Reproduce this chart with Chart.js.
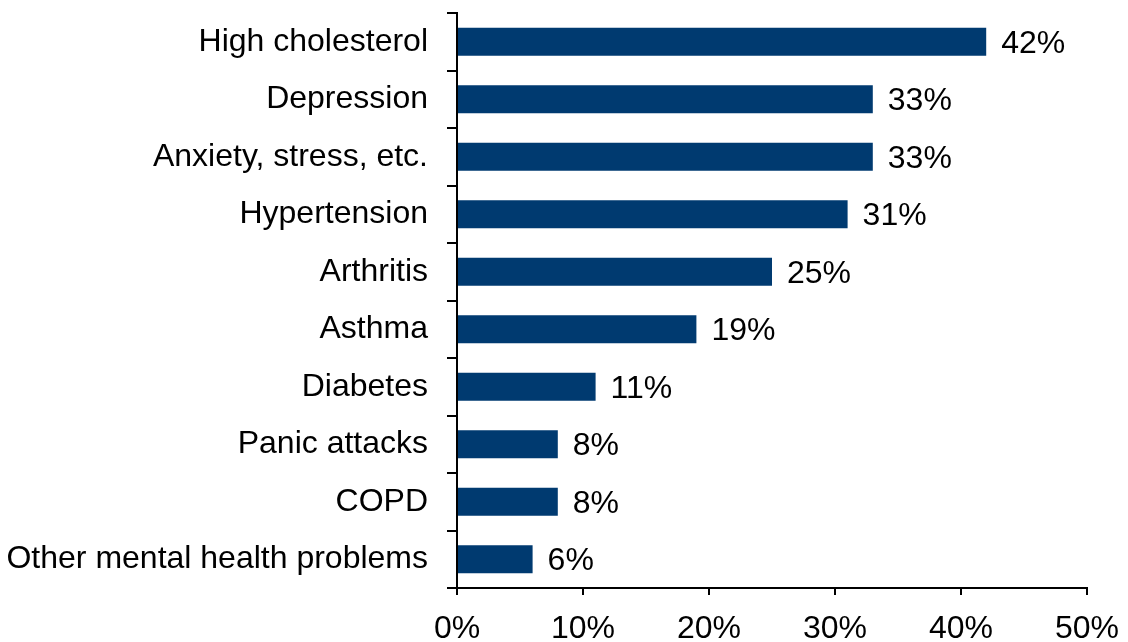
<!DOCTYPE html>
<html>
<head>
<meta charset="utf-8">
<script src="https://cdn.jsdelivr.net/npm/chart.js@4/dist/chart.umd.min.js"></script>
<style>
  html, body { margin: 0; padding: 0; background: #fff; }
  #wrap { width: 1128px; height: 642px; }
</style>
</head>
<body>
<div id="wrap"><canvas id="chart"></canvas></div>
<script>
const categories = ['High cholesterol', 'Depression', 'Anxiety, stress, etc.', 'Hypertension', 'Arthritis',
  'Asthma', 'Diabetes', 'Panic attacks', 'COPD', 'Other mental health problems'];
const values = [42, 33, 33, 31, 25, 19, 11, 8, 8, 6];
const xTicks = [0, 10, 20, 30, 40, 50];

const FONT = 'Liberation Sans, Arial, sans-serif';

// valeurs à droite des barres
const valueLabels = {
    id: 'valueLabels',
    afterDatasetsDraw(chart) {
        const { ctx } = chart;
        const meta = chart.getDatasetMeta(0);
        ctx.save();
        ctx.font = '32px ' + FONT;
        ctx.fillStyle = '#000';
        ctx.textAlign = 'left';
        ctx.textBaseline = 'middle';
        meta.data.forEach((bar, i) => {
            ctx.fillText(values[i] + '%', bar.x + 15, bar.y + 2);
        });
        ctx.restore();
    }
};

new Chart(document.getElementById('chart'), {
    type: 'bar',
    data: {
        labels: categories,
        datasets: [{
            data: values,
            backgroundColor: '#003A70',
            borderWidth: 0,
            barPercentage: 0.49,
            categoryPercentage: 1
        }]
    },
    plugins: [valueLabels],
    options: {
        responsive: true,
        maintainAspectRatio: false,
        animation: false,
        indexAxis: 'y',
        layout: { padding: { top: 13, right: 41, bottom: 0, left: 8 } },
        plugins: { legend: { display: false }, tooltip: { enabled: false } },
        scales: {
            x: {
                min: 0,
                max: 50,
                afterBuildTicks: axis => { axis.ticks = xTicks.map(v => ({ value: v })); },
                afterFit: axis => {
                    axis.height = 54;
                    axis.paddingLeft = 0;
                    axis.paddingRight = 0;
                },
                border: { color: '#000', width: 2 },
                grid: { drawOnChartArea: false, color: '#000', lineWidth: 2, tickLength: 7 },
                ticks: {
                    color: '#000',
                    padding: 15,
                    maxRotation: 0,
                    font: { family: FONT, size: 32 },
                    callback: v => v + '%'
                }
            },
            y: {
                afterFit: axis => {
                    axis.width = 449;
                    axis.paddingTop = 0;
                    axis.paddingBottom = 0;
                },
                border: { color: '#000', width: 2 },
                grid: { drawOnChartArea: false, color: '#000', lineWidth: 2, tickLength: 10, offset: true },
                ticks: {
                    color: '#000',
                    padding: 19,
                    font: { family: FONT, size: 32 }
                }
            }
        }
    }
});
</script>
</body>
</html>
